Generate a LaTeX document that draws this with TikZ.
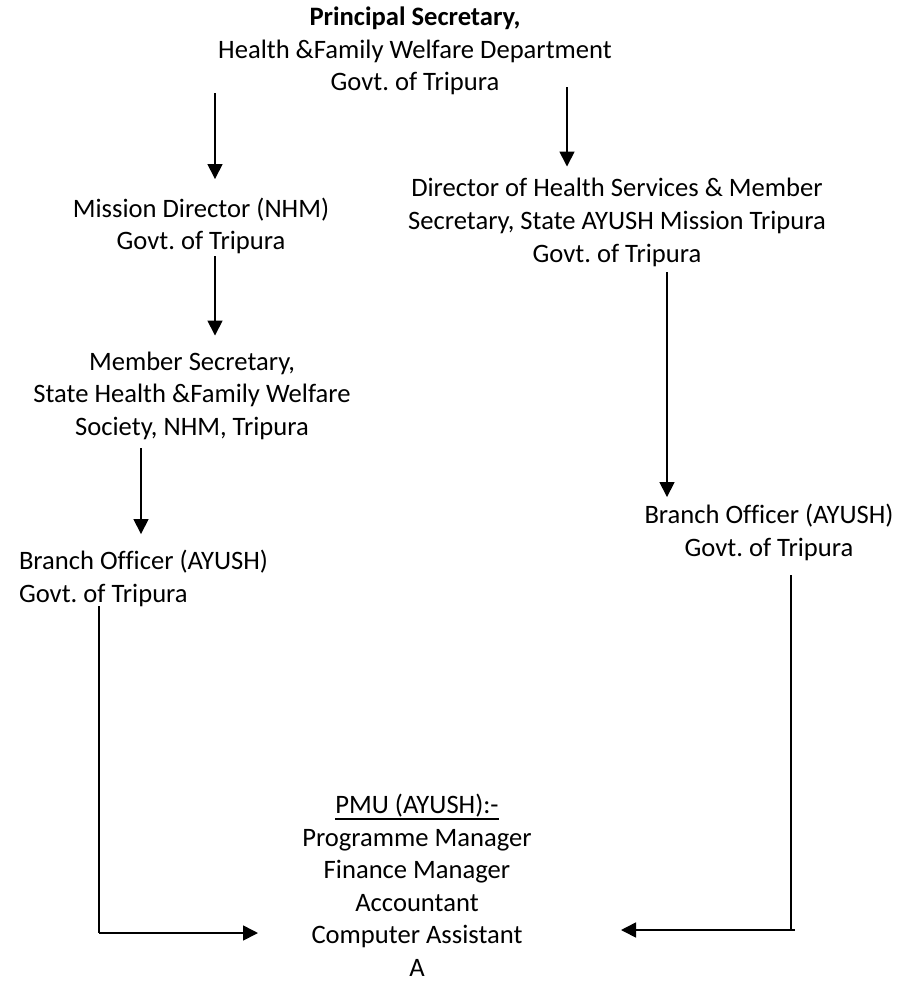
\documentclass[tikz,border=0pt]{standalone}
\usepackage{fontspec}
\setmainfont{Carlito}[Ligatures=NoCommon]
\usetikzlibrary{arrows.meta}
\frenchspacing
\newcommand{\ulbox}[1]{\setbox0=\hbox{#1}\rlap{\rule[-6pt]{\wd0}{1.6pt}}\box0}
\begin{document}
\begin{tikzpicture}[x=1pt,y=-1pt,
  lbl/.style={inner sep=0pt,outer sep=0pt,anchor=base,align=center,font=\fontsize{26.6pt}{32.5pt}\selectfont},
  arr/.style={line width=1.6pt,-{Triangle[length=15pt,width=15pt]}},
  bar/.style={line width=1.8pt}]
\useasboundingbox (0,0) rectangle (900,981);
\node[lbl] (top) at (415,91) {\textbf{Principal Secretary,}\\Health \&Family Welfare Department\\Govt. of Tripura};
\node[lbl] (mission) at (201,250) {Mission Director (NHM)\\Govt. of Tripura};
\node[lbl] (director) at (617,262) {Director of Health Services \& Member\\Secretary, State AYUSH Mission Tripura\\Govt. of Tripura};
\node[lbl] (member) at (192,435) {Member Secretary,\\State Health \&Family Welfare\\Society, NHM, Tripura};
\node[lbl,anchor=base west,align=left] (branchL) at (19,602) {Branch Officer (AYUSH)\\Govt. of Tripura};
\node[lbl] (branchR) at (769,556) {Branch Officer (AYUSH)\\Govt. of Tripura};
\node[lbl] (pmu) at (417,976) {\ulbox{PMU (AYUSH):-}\\Programme Manager\\Finance Manager\\Accountant\\Computer Assistant\\A};
\coordinate (colA) at (215,0);
\coordinate (colB) at (567,0);
\coordinate (colC) at (141,0);
\coordinate (colD) at (667,0);
\coordinate (cornL) at (99,933);
\coordinate (cornR) at (791,930);
\coordinate (inL) at (258,933);
\coordinate (inR) at (621,930);
\draw[arr,shorten <=-2pt,shorten >=19pt] (top.south -| colA) -- (mission.north -| colA);
\draw[arr,shorten <=-8pt,shorten >=12pt] (top.south -| colB) -- (director.north -| colB);
\draw[arr,shorten <=2pt,shorten >=16pt] (mission.south -| colA) -- (member.north -| colA);
\draw[arr,shorten <=9pt,shorten >=16pt] (member.south -| colC) -- (branchL.north -| colC);
\draw[arr,shorten <=6pt,shorten >=7pt] (director.south -| colD) -- (branchR.north -| colD);
\draw[line width=2.6pt] (branchL.south -| cornL) -- (cornL);
\draw[arr] (cornL) -- (inL);
\draw[bar,shorten <=15pt] (branchR.south -| cornR) -- (cornR);
\draw[arr] ([xshift=4pt]cornR) -- (inR);
\end{tikzpicture}
\end{document}
